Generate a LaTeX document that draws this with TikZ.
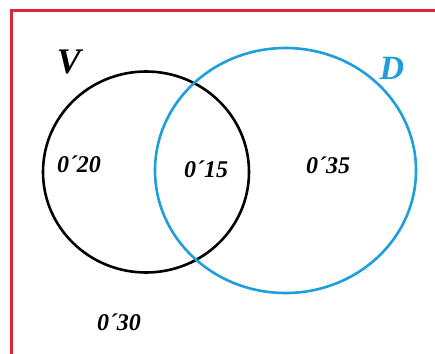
\documentclass[tikz,border=0pt]{standalone}
\usepackage{fontspec}
\setmainfont{Liberation Serif}
\usetikzlibrary{shapes.geometric}
\definecolor{frame}{RGB}{218,40,52}
\definecolor{dblue}{RGB}{30,158,218}
\begin{document}
\begin{tikzpicture}[x=1pt, y=-1pt]
			      \useasboundingbox (0,0) rectangle (435,353);
			      \clip (0,0) rectangle (435,353);
			      \draw[frame, line width=3pt] (11,11) rectangle (450,370);

			      \node[shape=ellipse, draw, line width=2.6pt, minimum width=206pt, minimum height=201pt, inner sep=0pt] (v) at (146,172){};
			      \node[shape=ellipse, draw=dblue, line width=2.6pt, minimum width=261pt, minimum height=245pt, inner sep=0pt] (d) at (285.5,170.5){};

			      \node[font=\bfseries\itshape\fontsize{36}{36}\selectfont] (lv) at (69,62){V};
			      \node[font=\bfseries\itshape\fontsize{34}{34}\selectfont, text=dblue] (ld) at (392,68){D};

			      \node[font=\bfseries\itshape\fontsize{24}{24}\selectfont] (p1) at (79,164){0´20};
			      \node[font=\bfseries\itshape\fontsize{24}{24}\selectfont] (p2) at (206,169){0´15};
			      \node[font=\bfseries\itshape\fontsize{24}{24}\selectfont] (p3) at (328,165){0´35};
			      \node[font=\bfseries\itshape\fontsize{24}{24}\selectfont] (p4) at (119,322){0´30};
		      \end{tikzpicture}
\end{document}
